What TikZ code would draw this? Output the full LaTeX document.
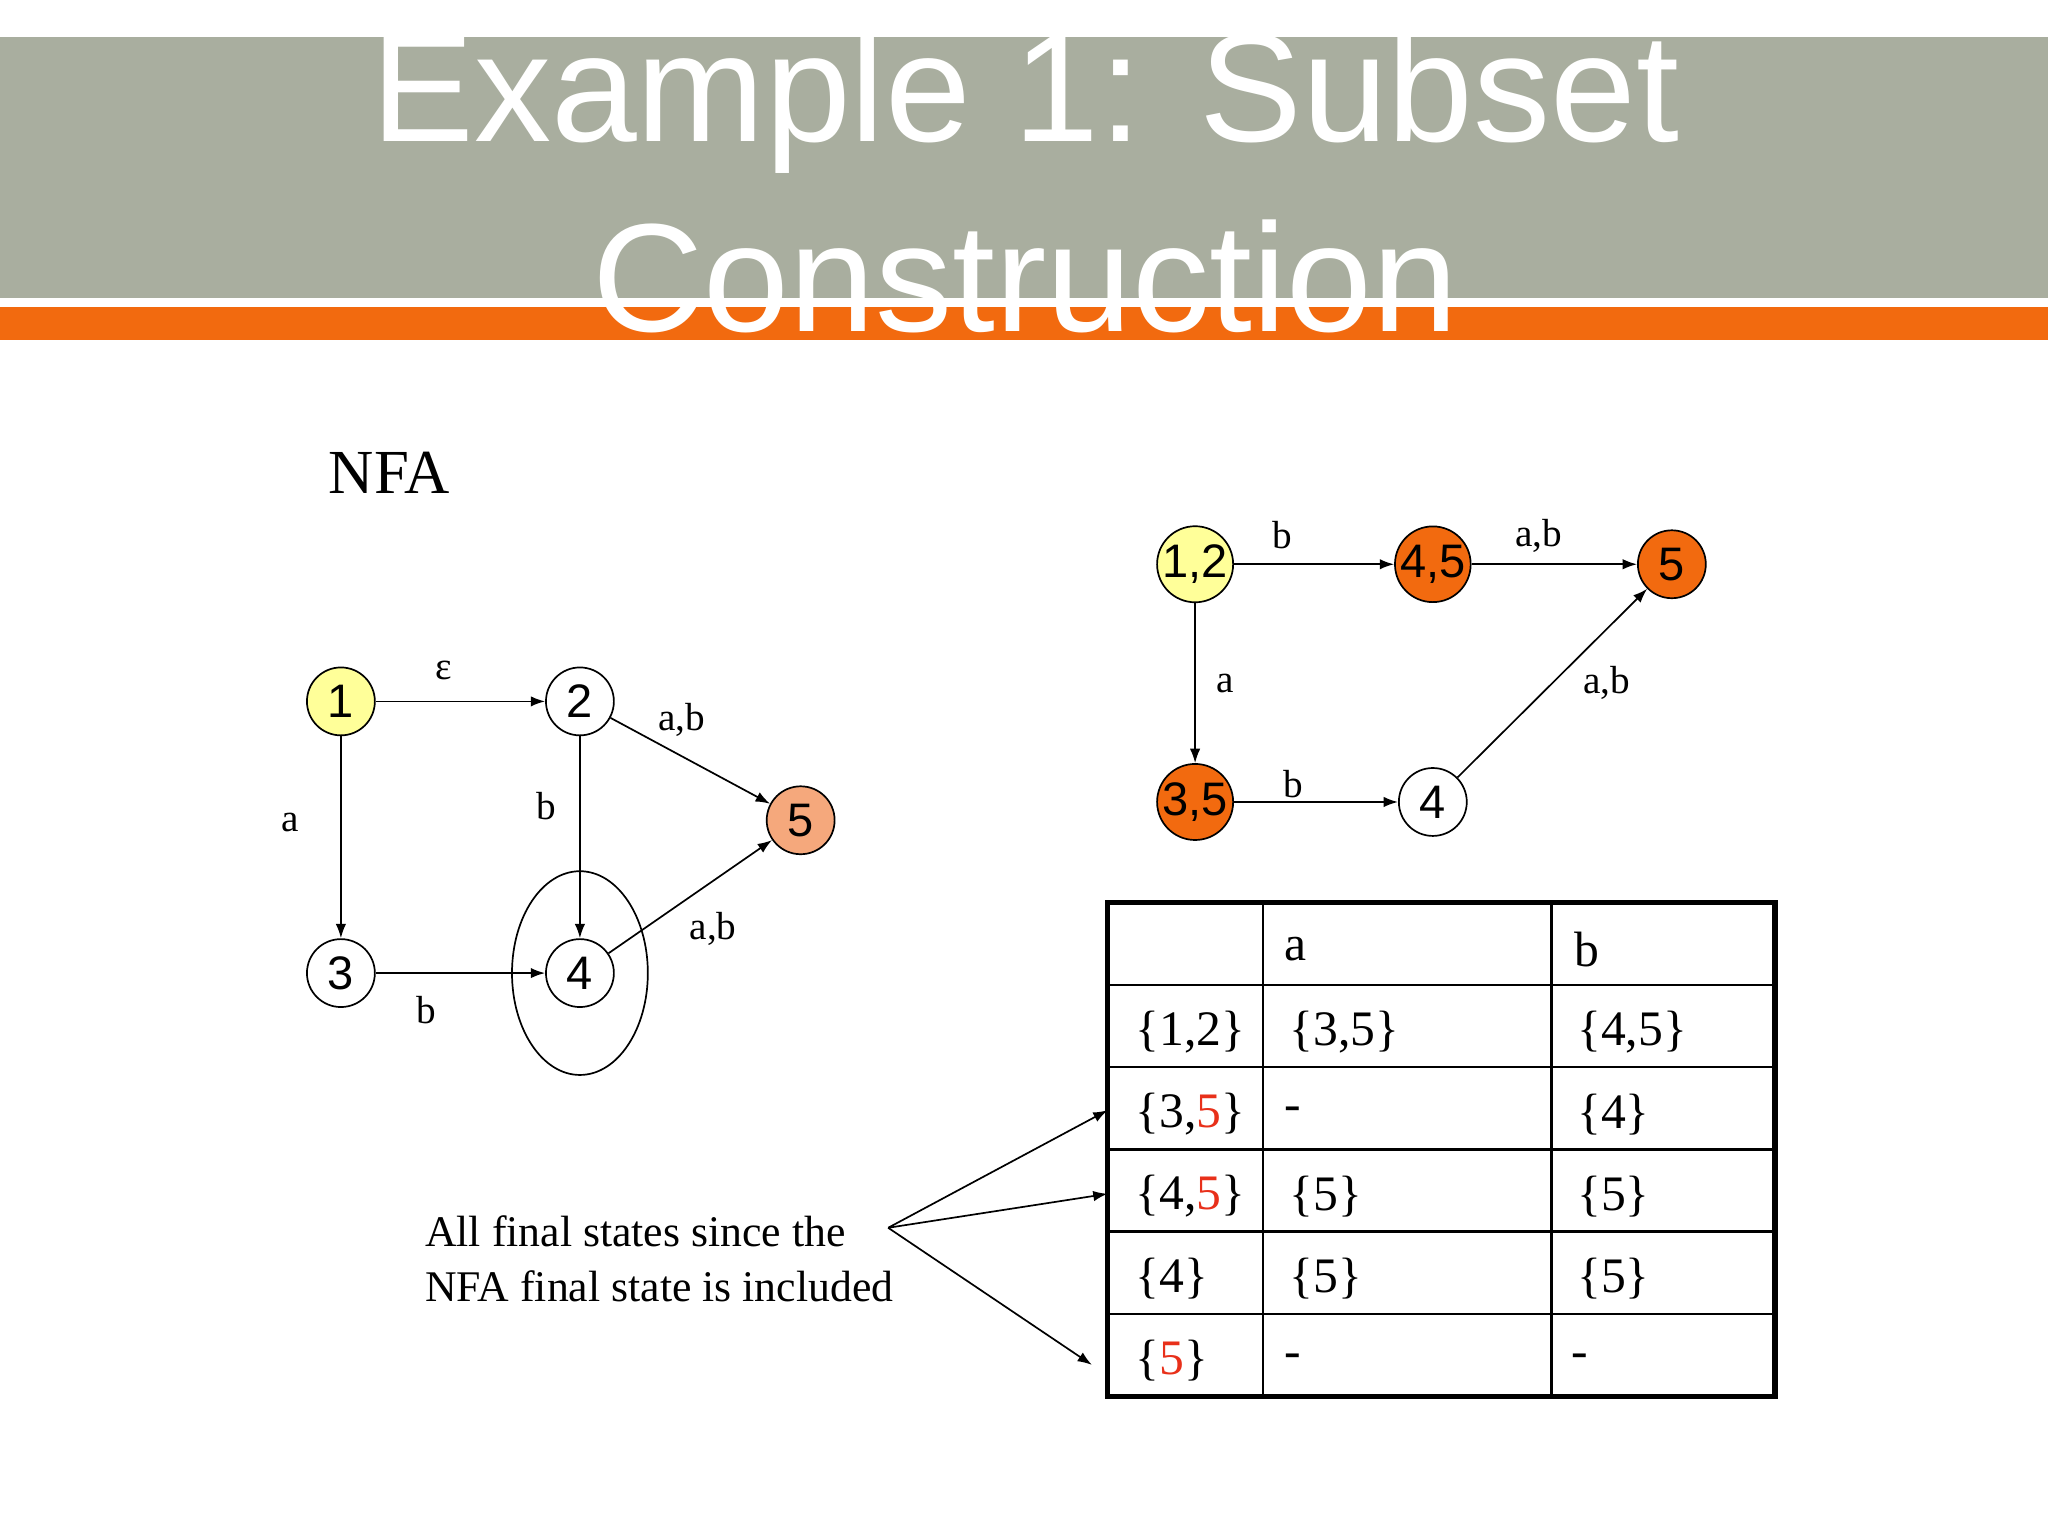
\documentclass[tikz,border=0pt]{standalone}
\usepackage{fontspec}
\setmainfont{Liberation Serif}
\newfontfamily\sansf{Liberation Sans}
\usetikzlibrary{arrows.meta}
\definecolor{band}{HTML}{A9AE9F}
\definecolor{orng}{HTML}{F26A0F}
\definecolor{yel}{HTML}{FFFF99}
\definecolor{salm}{HTML}{F5A87C}
\definecolor{red5}{HTML}{E8301A}
\begin{document}
\begin{tikzpicture}[x=1pt,y=-1pt,
  st/.style={circle,draw,line width=1.3pt,minimum size=52pt,inner sep=0pt,font=\sansf\fontsize{36}{36}\selectfont},
  ed/.style={-{Latex[length=11pt,width=8pt]},line width=1.3pt},
  lb/.style={font=\fontsize{30}{30}\selectfont},
  tt/.style={font=\fontsize{38}{38}\selectfont,anchor=west},
  title/.style={font=\sansf\fontsize{118}{118}\selectfont,text=white}]
\useasboundingbox (0,0) rectangle (1568,1176);
\fill[band] (0,28) rectangle (1568,228);
\fill[orng] (0,235) rectangle (1568,260);
\node[title] (t1) at (785,78) {Example 1: Subset};
\node[title] (t2) at (785,212) {Construction};
\node[font=\fontsize{48}{48}\selectfont] (nfa) at (298,362) {NFA};
% NFA
\node[st,fill=yel] (n1) at (261,537) {1};
\node[st] (n2) at (444,537) {2};
\node[st] (n3) at (261,745) {3};
\node[st] (n4) at (444,745) {4};
\node[st,fill=salm] (n5) at (613,628) {5};
\draw[line width=1.3pt] (n4) ellipse [x radius=52, y radius=78];
\draw[ed] (n1) -- (n2); \node[lb] (l1) at (340,513) {ε};
\draw[ed] (n1) -- (n3); \node[lb] (l2) at (222,630) {a};
\draw[ed] (n2) -- (n4); \node[lb] (l3) at (418,617) {b};
\draw[ed] (n3) -- (n4); \node[lb] (l4) at (326,773) {b};
\draw[ed] (n2) -- (n5); \node[lb] (l5) at (522,551) {a,b};
\draw[ed] (n4) -- (n5); \node[lb] (l6) at (546,711) {a,b};
% DFA
\node[st,fill=yel] (d12) at (915,432) {1,2};
\node[st,fill=orng] (d45) at (1097,432) {4,5};
\node[st,fill=orng] (d5) at (1280,432) {5};
\node[st,fill=orng] (d35) at (915,614) {3,5};
\node[st] (d4) at (1097,614) {4};
\draw[ed] (d12) -- (d45); \node[lb] (m1) at (982,410) {b};
\draw[ed] (d45) -- (d5); \node[lb] (m2) at (1178,410) {a,b};
\draw[ed] (d12) -- (d35); \node[lb] (m3) at (938,523) {a};
\draw[ed] (d35) -- (d4); \node[lb] (m4) at (990,600) {b};
\draw[ed] (d4) -- (d5); \node[lb] (m5) at (1230,523) {a,b};
% table
\draw[line width=2pt] (849,754) -- (1358,754) (849,817) -- (1358,817) (849,880) -- (1358,880)
  (849,943) -- (1358,943) (849,1006) -- (1358,1006) (967,691) -- (967,1069) (1188,691) -- (1188,1069);
\draw[line width=4pt] (848,691) rectangle (1359,1069);
\node[tt] (ha) at (980,727) {a};
\node[tt] (hb) at (1202,727) {b};
\node[tt] (r1) at (866,790) {\{1,2\}}; \node[tt] (r1a) at (984,790) {\{3,5\}}; \node[tt] (r1b) at (1204,790) {\{4,5\}};
\node[tt] (r2) at (866,853) {\{3,\textcolor{red5}{5}\}}; \node[tt] (r2a) at (980,853) {-}; \node[tt] (r2b) at (1204,853) {\{4\}};
\node[tt] (r3) at (866,916) {\{4,\textcolor{red5}{5}\}}; \node[tt] (r3a) at (984,916) {\{5\}}; \node[tt] (r3b) at (1204,916) {\{5\}};
\node[tt] (r4) at (866,979) {\{4\}}; \node[tt] (r4a) at (984,979) {\{5\}}; \node[tt] (r4b) at (1204,979) {\{5\}};
\node[tt] (r5) at (866,1042) {\{\textcolor{red5}{5}\}}; \node[tt] (r5a) at (980,1042) {-}; \node[tt] (r5b) at (1200,1042) {-};
% annotation
\node[font=\fontsize{33.5}{42}\selectfont,align=left,anchor=west] (ann) at (322,964) {All final states since the\\NFA final state is included};
\coordinate (src) at (680,940);
\coordinate (t1e) at (848,850); \coordinate (t2e) at (848,914); \coordinate (t3e) at (836,1045);
\draw[ed] (src) -- (t1e); \draw[ed] (src) -- (t2e); \draw[ed] (src) -- (t3e);
\end{tikzpicture}
\end{document}
